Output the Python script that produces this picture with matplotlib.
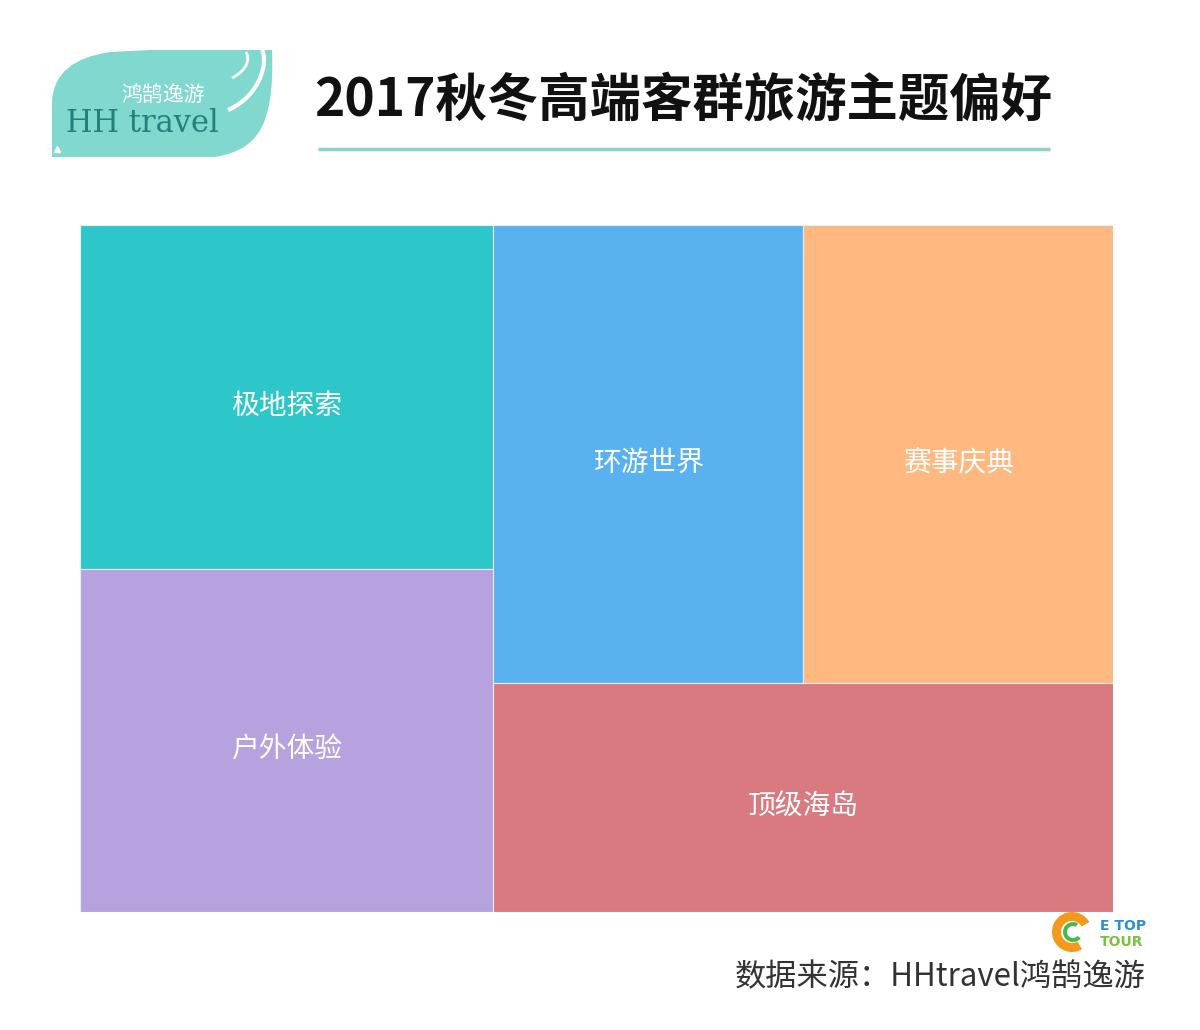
import matplotlib
matplotlib.use("Agg")
import matplotlib.pyplot as plt
from matplotlib.patches import Rectangle, PathPatch, Wedge
from matplotlib.path import Path

plt.rcParams['font.family'] = ['Noto Sans CJK SC', 'DejaVu Sans']

# data
themes = ['极地探索', '户外体验', '环游世界', '赛事庆典', '顶级海岛']
values = [20, 20, 20, 20, 20]
colors = ['#2ec7c9', '#b6a2de', '#5ab1ef', '#ffb980', '#d87a80']
title = '2017秋冬高端客群旅游主题偏好'
source = '数据来源：HHtravel鸿鹄逸游'


def worst(row, w):
    s = sum(row)
    return max(max(w * w * r / (s * s), (s * s) / (w * w * r)) for r in row)


def squarify(vals, x, y, dx, dy):
    # simple squarified treemap, vals already scaled to area
    rects = []
    vals = list(vals)
    while vals:
        w = min(dx, dy)
        row = [vals.pop(0)]
        while vals and worst(row + [vals[0]], w) <= worst(row, w):
            row.append(vals.pop(0))
        s = sum(row)
        if dx >= dy:
            cw = s / dy
            cy = y
            for r in row:
                h = r / cw
                rects.append((x, cy, cw, h))
                cy += h
            x += cw
            dx -= cw
        else:
            ch = s / dx
            cx = x
            for r in row:
                wd = r / ch
                rects.append((cx, y, wd, ch))
                cx += wd
            y += ch
            dy -= ch
    return rects


W, H = 1200, 1030
fig = plt.figure(figsize=(W / 100, H / 100), dpi=100)
bg = fig.add_axes([0, 0, 1, 1])
bg.set_xlim(0, W)
bg.set_ylim(H, 0)
bg.axis('off')

# treemap area (pixels)
tx0, ty0, tw, th = 80, 225, 1033, 687
ax = fig.add_axes([tx0 / W, 1 - (ty0 + th) / H, tw / W, th / H])
ax.set_xlim(0, tw)
ax.set_ylim(th, 0)
ax.axis('off')

total = sum(values)
areas = [v / total * tw * th for v in values]
for (x, y, w, h), name, c in zip(squarify(areas, 0, 0, tw, th), themes, colors):
    ax.add_patch(Rectangle((x, y), w, h, facecolor=c, edgecolor='#e8eef0', linewidth=0.8))
    ax.text(x + w / 2, y + h / 2 + 9, name, color='white', fontsize=20,
            ha='center', va='center')

# title
bg.text(683, 100, title, fontsize=37, fontweight='bold', color='#111111',
        ha='center', va='center')
bg.plot([318, 1050], [149, 149], color='#8ed3cb', linewidth=2.5, solid_capstyle='butt')

# HH travel logo
verts = [(52, 157), (52, 100), (55, 60), (110, 52), (150, 50), (272, 50),
         (275, 130), (255, 150), (215, 157), (52, 157)]
codes = [Path.MOVETO, Path.LINETO, Path.CURVE3, Path.CURVE3, Path.LINETO,
         Path.LINETO, Path.CURVE4, Path.CURVE4, Path.CURVE4, Path.CLOSEPOLY]
bg.add_patch(PathPatch(Path(verts, codes), facecolor='#80d8cf', edgecolor='none'))
sw = Path([(228, 110), (262, 95), (268, 60), (262, 50)],
          [Path.MOVETO, Path.CURVE4, Path.CURVE4, Path.CURVE4])
bg.add_patch(PathPatch(sw, facecolor='none', edgecolor='white', linewidth=3))
sw2 = Path([(232, 78), (248, 70), (250, 58), (246, 52)],
           [Path.MOVETO, Path.CURVE4, Path.CURVE4, Path.CURVE4])
bg.add_patch(PathPatch(sw2, facecolor='none', edgecolor='white', linewidth=2))
bg.text(163, 96, '鸿鹄逸游', fontsize=15, color='white', ha='center', va='center')
bg.text(142, 123, 'HH travel', family='DejaVu Serif', fontsize=22, color='#23807d',
        ha='center', va='center')
bg.plot([57], [149], marker='^', color='white', markersize=4)

# ETOP TOUR logo
bg.add_patch(Wedge((1072, 932), 20, 60, 330, width=9, facecolor='#f39a1e', edgecolor='none'))
bg.add_patch(Wedge((1073, 932), 10, 40, 300, width=4, facecolor='#4bb84a', edgecolor='none'))
bg.text(1100, 926, 'E TOP', fontsize=10, fontweight='bold', color='#2b8fd6',
        ha='left', va='center', family='DejaVu Sans')
bg.text(1100, 942, 'TOUR', fontsize=10, fontweight='bold', color='#7bc142',
        ha='left', va='center', family='DejaVu Sans')

# source
bg.text(1146, 977, source, fontsize=22.5, color='#333333', ha='right', va='center')

fig.savefig('out.png', dpi=100, facecolor='white')
